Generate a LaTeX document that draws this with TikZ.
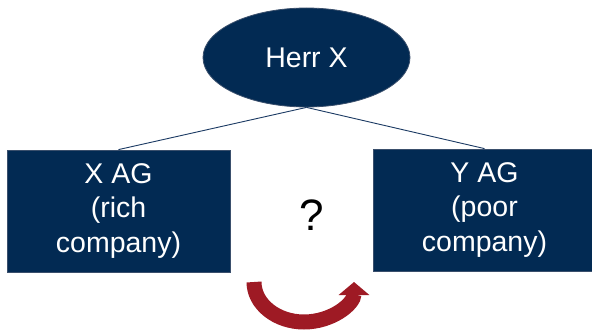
\documentclass[tikz,border=0pt]{standalone}
\usepackage{fontspec}
\setmainfont{Liberation Sans}
\usetikzlibrary{shapes.geometric,arrows.meta}
\definecolor{navy}{HTML}{022A53}
\definecolor{navyline}{HTML}{1B3A63}
\definecolor{boxedge}{HTML}{3A4F6C}
\definecolor{darkred}{HTML}{9E1A24}
\begin{document}
\begin{tikzpicture}[x=1pt,y=1pt,
  txt/.style={text=white,font=\fontsize{28.5}{34.5}\selectfont,align=center,inner sep=0pt},
  ownerbox/.style={txt,ellipse,fill=navy,draw=boxedge,line width=0.8pt,minimum width=207pt,minimum height=99pt},
  compbox/.style={txt,rectangle,fill=navy,draw=boxedge,line width=0.8pt,minimum width=223pt,minimum height=122pt},
  link/.style={draw=navyline,line width=0.9pt}]
\useasboundingbox (0,0) rectangle (592,330);
\clip (0,0) rectangle (592,330);
\fill[white] (0,0) rectangle (592,330);
\node[ownerbox] (herr) at (306.5,272.5) {Herr X};
\node[compbox] (xag) at (118.5,119) {X AG\\(rich\\company)};
\node[compbox] (yag) at (484.5,120) {Y AG\\(poor\\company)};
\node[font=\fontsize{44}{44}\selectfont,inner sep=0pt] (q) at (312,115) {?};
\draw[link] (herr.south) -- (xag.north);
\draw[link] (herr.south) -- (yag.north);
\coordinate (arrstart) at (254,48);
\draw[darkred,line width=15pt,-{Triangle[width=30pt,length=13pt]}] (arrstart) arc[start angle=180,end angle=360,x radius=50,y radius=40];
\end{tikzpicture}
\end{document}
